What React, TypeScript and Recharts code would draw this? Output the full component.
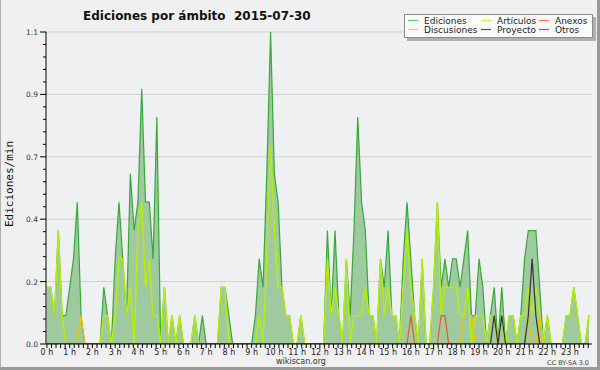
import React from 'react';
import { ComposedChart, Area, Line, XAxis, YAxis, CartesianGrid } from 'recharts';

// 10-minute slots of 2015-07-30 (index 0 = 00:00, 143 = 23:50)
const slots: number[] = [
  0,1,2,3,4,5,6,7,8,9,10,11,12,13,14,15,16,17,18,19,20,21,22,23,
  24,25,26,27,28,29,30,31,32,33,34,35,36,37,38,39,40,41,42,43,44,45,46,47,
  48,49,50,51,52,53,54,55,56,57,58,59,60,61,62,63,64,65,66,67,68,69,70,71,
  72,73,74,75,76,77,78,79,80,81,82,83,84,85,86,87,88,89,90,91,92,93,94,95,
  96,97,98,99,100,101,102,103,104,105,106,107,108,109,110,111,112,113,114,115,116,117,118,119,
  120,121,122,123,124,125,126,127,128,129,130,131,132,133,134,135,136,137,138,139,140,141,142,143,
];

const ediciones: number[] = [
  0.2,0.2,0.1,0.4,0.1,0.1,0.2,0.3,0.5,0.1,0,0,
  0,0,0,0.2,0.1,0,0.3,0.5,0.3,0.1,0.6,0.4,
  0.5,0.9,0.5,0.5,0.3,0.8,0,0.2,0,0.1,0,0.1,
  0,0,0,0.1,0,0.1,0,0,0,0,0.2,0.2,
  0.1,0,0,0,0,0,0,0.1,0.3,0.2,0.6,1.1,
  0.6,0.5,0.2,0.1,0.1,0,0,0.1,0,0,0,0,
  0,0,0.4,0.1,0.4,0.1,0,0.3,0.1,0.4,0.8,0.5,
  0.4,0.1,0.1,0,0.3,0.2,0.4,0.1,0.1,0,0.3,0.5,
  0.3,0.1,0,0.3,0,0,0.2,0.5,0.2,0.3,0.2,0.3,
  0.3,0.2,0.3,0.4,0.1,0.1,0.3,0.2,0,0.1,0.2,0,
  0.2,0,0.1,0.1,0,0.1,0.3,0.4,0.4,0.4,0.2,0,
  0.1,0,0,0,0,0.1,0.1,0.2,0.1,0,0,0.1,
];

const articulos: number[] = [
  0.2,0.2,0.1,0.4,0.1,0,0,0,0,0,0,0,
  0,0,0,0.1,0.1,0,0.1,0.3,0.3,0.1,0.2,0,
  0.4,0.5,0.2,0.3,0.1,0.1,0,0.2,0,0.1,0,0.1,
  0,0,0,0.1,0,0,0,0,0,0,0.2,0.2,
  0,0,0,0,0,0,0,0,0.1,0,0.3,0.7,
  0.4,0.2,0.2,0.1,0.1,0,0,0.1,0,0,0,0,
  0,0,0.3,0.1,0.2,0.1,0,0.3,0,0.1,0.1,0.1,
  0.2,0.1,0.1,0,0.3,0.1,0.2,0.1,0.1,0,0.2,0.4,
  0.2,0.1,0,0.3,0,0,0.2,0.5,0.1,0.2,0.2,0.2,
  0.2,0.1,0.1,0.2,0,0.1,0.1,0.1,0,0.1,0.1,0,
  0.1,0,0.1,0.1,0,0.1,0.1,0.2,0.1,0.2,0.1,0,
  0.1,0,0,0,0,0.1,0.1,0.2,0.1,0,0,0.1,
];

const discusiones: number[] = [
  0,0,0,0,0,0,0,0,0,0.1,0,0,
  0,0,0,0,0,0,0,0,0,0,0,0,
  0,0,0,0,0,0,0,0,0,0,0,0,
  0,0,0,0,0,0,0,0,0,0,0,0,
  0,0,0,0,0,0,0,0,0,0,0,0,
  0,0,0,0,0,0,0,0,0,0,0,0,
  0,0,0,0,0,0,0,0,0,0,0,0,
  0,0,0,0,0,0,0,0,0,0,0,0,
  0,0,0,0,0,0,0,0,0,0,0,0,
  0,0,0.1,0.1,0.1,0,0,0,0,0,0,0,
  0,0,0,0,0,0,0,0.1,0,0,0.1,0,
  0,0,0,0,0,0,0,0,0,0,0,0,
];

const anexos: number[] = [
  0,0,0,0,0,0,0,0,0,0,0,0,
  0,0,0,0,0,0,0,0,0,0,0,0,
  0,0,0,0,0,0,0,0,0,0,0,0,
  0,0,0,0,0,0,0,0,0,0,0,0,
  0,0,0,0,0,0,0,0,0,0,0,0,
  0,0,0,0,0,0,0,0,0,0,0,0,
  0,0,0,0,0,0,0,0,0,0,0,0,
  0,0,0,0,0,0,0,0,0,0,0,0,
  0.1,0,0,0,0,0,0,0,0.1,0.1,0,0,
  0,0,0,0,0,0,0,0,0,0,0,0,
  0,0,0,0,0,0,0,0,0,0,0,0,
  0,0,0,0,0,0,0,0,0,0,0,0,
];

const proyecto: number[] = [
  0,0,0,0,0,0,0,0,0,0,0,0,
  0,0,0,0,0,0,0,0,0,0,0,0,
  0,0,0,0,0,0,0,0,0,0,0,0,
  0,0,0,0,0,0,0,0,0,0,0,0,
  0,0,0,0,0,0,0,0,0,0,0,0,
  0,0,0,0,0,0,0,0,0,0,0,0,
  0,0,0,0,0,0,0,0,0,0,0,0,
  0,0,0,0,0,0,0,0,0,0,0,0,
  0,0,0,0,0,0,0,0,0,0,0,0,
  0,0,0,0,0,0,0,0,0,0,0.1,0,
  0.1,0,0,0,0,0,0,0.1,0.3,0.1,0,0,
  0,0,0,0,0,0,0,0,0,0,0,0,
];

const hourLabels: string[] = [
  '0 h','1 h','2 h','3 h','4 h','5 h','6 h','7 h','8 h','9 h','10 h','11 h',
  '12 h','13 h','14 h','15 h','16 h','17 h','18 h','19 h','20 h','21 h','22 h','23 h',
];

const legendItems = [
  { name: 'Ediciones', color: '#66cc66', col: 0, row: 0 },
  { name: 'Artículos', color: '#ccff33', col: 1, row: 0 },
  { name: 'Anexos', color: '#ff7744', col: 2, row: 0 },
  { name: 'Discusiones', color: '#ffcc33', col: 0, row: 1 },
  { name: 'Proyecto', color: '#555555', col: 1, row: 1 },
  { name: 'Otros', color: '#9944ff', col: 2, row: 1 },
];

const data = slots.map((t, i) => ({
  t,
  ed: ediciones[i],
  ar: articulos[i],
  di: discusiones[i],
  an: anexos[i],
  pr: proyecto[i],
}));

// y ticks: 5 major intervals of 0.22, each split into 5 minor steps
const yTicks: number[] = Array.from({ length: 26 }, (_, k) => +(k * 0.044).toFixed(4));
const yMajor: number[] = [0.22, 0.44, 0.66, 0.88, 1.1];
// x ticks every 12 minutes (1.2 slots)
const xTicks: number[] = Array.from({ length: 120 }, (_, k) => +(k * 1.2).toFixed(4));

const PLOT_LEFT = 46;
const PLOT_BOTTOM = 344;
const FONT = 'DejaVu Sans';

const YTick = (props: any) => {
  const { y, index } = props;
  const major = index % 5 === 0;
  const v = yTicks[index];
  return (
    <g>
      <line x1={PLOT_LEFT - (major ? 6 : 3)} x2={PLOT_LEFT} y1={y} y2={y} stroke="#000" strokeWidth={1} />
      {major && (
        <text x={PLOT_LEFT - 8} y={y + 3} textAnchor="end" fontSize={7.5} fontFamily={FONT} fill="#333">
          {v.toFixed(1)}
        </text>
      )}
    </g>
  );
};

const XTick = (props: any) => {
  const { x, index } = props;
  const major = index % 5 === 0;
  return (
    <g>
      <line x1={x} x2={x} y1={PLOT_BOTTOM} y2={PLOT_BOTTOM + 4} stroke="#000" strokeWidth={1} />
      {major && (
        <text x={x} y={PLOT_BOTTOM + 11} textAnchor="middle" fontSize={8} fontFamily={FONT} fill="#222">
          {hourLabels[index / 5]}
        </text>
      )}
    </g>
  );
};

export default function App() {
  return (
    <div style={{ position: 'fixed', left: 0, top: 0, width: 600, height: 370, background: '#f0f0f0' }}>
      <ComposedChart width={600} height={370} data={data} margin={{ top: 32, right: 8, bottom: 0, left: 0 }}>
        <CartesianGrid
          vertical={false}
          horizontalValues={yMajor}
          stroke="#cfcfcf"
          fill="#eef0f1"
          fillOpacity={1}
        />
        <XAxis
          dataKey="t"
          type="number"
          domain={[-0.25, 143.8]}
          ticks={xTicks}
          interval={0}
          height={26}
          tickLine={false}
          axisLine={{ stroke: '#000' }}
          tick={<XTick />}
          allowDataOverflow
        />
        <YAxis
          type="number"
          domain={[0, 1.1]}
          ticks={yTicks}
          interval={0}
          width={46}
          tickLine={false}
          axisLine={{ stroke: '#000' }}
          tick={<YTick />}
          allowDataOverflow
        />
        <Area
          type="linear"
          dataKey="ed"
          stroke="#38a838"
          strokeWidth={1.2}
          fill="#9fc99f"
          fillOpacity={1}
          dot={false}
          activeDot={false}
          isAnimationActive={false}
        />
        <Line type="linear" dataKey="ar" stroke="#b8ec10" strokeWidth={1.5} dot={false} activeDot={false} isAnimationActive={false} />
        <Line type="linear" dataKey="di" stroke="#f2c200" strokeWidth={1.2} dot={false} activeDot={false} isAnimationActive={false} />
        <Line type="linear" dataKey="an" stroke="#ee5a1c" strokeWidth={1.2} dot={false} activeDot={false} isAnimationActive={false} />
        <Line type="linear" dataKey="pr" stroke="#333333" strokeWidth={1.2} dot={false} activeDot={false} isAnimationActive={false} />
      </ComposedChart>
      <svg width={600} height={370} style={{ position: 'absolute', left: 0, top: 0, pointerEvents: 'none' }}>
        <text x={83} y={20} fontSize={12} fontWeight="bold" fontFamily={FONT} fill="#111" style={{ whiteSpace: 'pre' }}>
          Ediciones por ámbito  2015-07-30
        </text>
        <text
          x={13}
          y={184}
          fontSize={11}
          fontFamily="DejaVu Sans Mono"
          fill="#111"
          textAnchor="middle"
          transform="rotate(-90 13 184)"
        >
          Ediciones/min
        </text>
        <text x={301} y={364} fontSize={8} fontFamily={FONT} fill="#333" textAnchor="middle">
          wikiscan.org
        </text>
        <text x={589} y={365} fontSize={6.5} fontFamily={FONT} fill="#444" textAnchor="end">
          CC BY-SA 3.0
        </text>
        {/* legend */}
        <rect x={407} y={17} width={189} height={24} fill="#b0b0b0" />
        <rect x={404.5} y={14.5} width={188} height={23} fill="#fbfbfb" stroke="#8a8a8a" strokeWidth={1} />
        {legendItems.map((it) => {
          const colX = [408, 481, 539][it.col];
          const rowY = [20.5, 29.5][it.row];
          return (
            <g key={it.name}>
              <line x1={colX} x2={colX + 10} y1={rowY} y2={rowY} stroke={it.color} strokeWidth={1.2} />
              <text x={colX + 16} y={rowY + 3} fontSize={9} fontFamily={FONT} fill="#222">
                {it.name}
              </text>
            </g>
          );
        })}
        {/* frame */}
        <line x1={0.5} y1={0} x2={0.5} y2={370} stroke="#b0b0b0" />
        <line x1={0} y1={368.5} x2={600} y2={368.5} stroke="#999" strokeWidth={3} />
        <line x1={598.5} y1={0} x2={598.5} y2={370} stroke="#999" strokeWidth={3} />
      </svg>
    </div>
  );
}
